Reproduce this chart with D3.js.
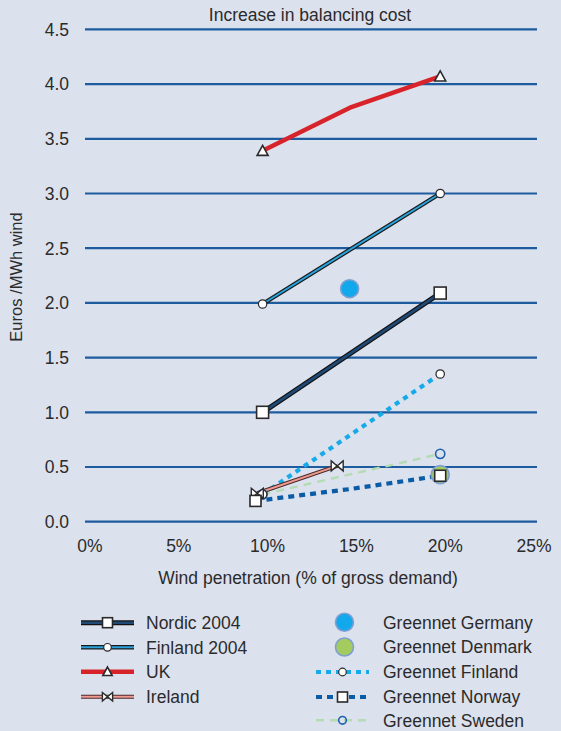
<!DOCTYPE html>
<html><head><meta charset="utf-8">
<script src="https://cdn.jsdelivr.net/npm/d3@7"></script>
<style>
html,body{margin:0;padding:0;background:#dce1ee;}
text{font-family:"Liberation Sans",Arial,sans-serif;fill:#2b2b2b;}
</style></head>
<body>
<svg id="chart" width="561" height="731"></svg>
<script>
// ---- data ----
const title = "Increase in balancing cost";
const yTitle = "Euros /MWh wind";
const xTitle = "Wind penetration (% of gross demand)";
const xTicks = [0, 5, 10, 15, 20, 25];
const yTicks = [0, 0.5, 1.0, 1.5, 2.0, 2.5, 3.0, 3.5, 4.0, 4.5];

const nordic2004 = [[10, 1.0], [20, 2.09]];
const finland2004 = [[10, 1.99], [20, 3.0]];
const uk = [[10, 3.39], [15, 3.79], [20, 4.07]];
const ireland = [[9.7, 0.26], [14.2, 0.51]];
const greennetGermany = [[14.9, 2.13]];
const greennetDenmark = [[20, 0.43]];
const greennetFinland = [[10, 0.25], [20, 1.35]];
const greennetNorway = [[9.6, 0.19], [15, 0.3], [20, 0.42]];
const greennetSweden = [[10, 0.25], [20, 0.62]];

const legendLeft = ["Nordic 2004", "Finland 2004", "UK", "Ireland"];
const legendRight = ["Greennet Germany", "Greennet Denmark", "Greennet Finland", "Greennet Norway", "Greennet Sweden"];

// ---- layout ----
const svg = d3.select("#chart");
const x = d3.scaleLinear().domain([0, 25]).range([85, 529]);
const y = d3.scaleLinear().domain([0, 4.5]).range([521.7, 29.4]);
const gridRight = 537;

svg.append("rect").attr("width", 561).attr("height", 731).attr("fill", "#dce1ee");

// gridlines
svg.append("g").selectAll("line").data(yTicks).join("line")
  .attr("x1", x(0)).attr("x2", gridRight)
  .attr("y1", d => y(d)).attr("y2", d => y(d))
  .attr("stroke", "#1c5c9f").attr("stroke-width", 2.2);

// y tick labels
svg.append("g").selectAll("text").data(yTicks).join("text")
  .attr("x", 69).attr("y", d => y(d)).attr("dy", "0.36em")
  .attr("text-anchor", "end").style("font-size", "17.5px")
  .text(d3.format(".1f"));

// x tick labels
svg.append("g").selectAll("text").data(xTicks).join("text")
  .attr("x", d => x(d) + 5).attr("y", 552)
  .attr("text-anchor", "middle").style("font-size", "17.5px")
  .text(d => d + "%");

svg.append("text").attr("x", 310).attr("y", 21).attr("text-anchor", "middle")
  .style("font-size", "17.5px").text(title);
svg.append("text").attr("x", 308).attr("y", 584).attr("text-anchor", "middle")
  .style("font-size", "17.5px").text(xTitle);
svg.append("text").attr("transform", "translate(22,277) rotate(-90)")
  .attr("text-anchor", "middle").style("font-size", "16.5px").text(yTitle);

const line = d3.line().x(d => x(d[0])).y(d => y(d[1]));

// markers
function marker(g, type, cx, cy, opt = {}) {
  if (type === "square") {
    const s = opt.size || 11;
    g.append("rect").attr("x", cx - s / 2).attr("y", cy - s / 2).attr("width", s).attr("height", s)
      .attr("fill", "#fff").attr("stroke", "#2a2a2a").attr("stroke-width", 1.6);
  } else if (type === "circle") {
    g.append("circle").attr("cx", cx).attr("cy", cy).attr("r", opt.r || 4.2)
      .attr("fill", opt.fill || "#fff").attr("stroke", opt.stroke || "#2a2a2a").attr("stroke-width", opt.sw || 1.2);
  } else if (type === "triangle") {
    const k = opt.k || 1;
    g.append("path").attr("d", `M${cx},${cy - 5.5 * k}L${cx + 5.5 * k},${cy + 4.5 * k}L${cx - 5.5 * k},${cy + 4.5 * k}Z`)
      .attr("fill", "#fff").attr("stroke", "#2a2a2a").attr("stroke-width", 1.6);
  } else if (type === "bowtie") {
    const k = opt.k || 1;
    g.append("path").attr("d", `M${cx - 6 * k},${cy - 5 * k}L${cx},${cy}L${cx - 6 * k},${cy + 5 * k}ZM${cx + 6 * k},${cy - 5 * k}L${cx},${cy}L${cx + 6 * k},${cy + 5 * k}Z`)
      .attr("fill", "#fff").attr("stroke", "#2a2a2a").attr("stroke-width", 1.4);
  } else if (type === "bubble") {
    g.append("circle").attr("cx", cx).attr("cy", cy).attr("r", 9)
      .attr("fill", opt.fill).attr("stroke", "#7f9fd3").attr("stroke-width", 1.6);
  }
}

const series = [
  { name: "Greennet Sweden", data: greennetSweden, strokes: [{ c: "#b5dbb2", w: 2.4, dash: "8,6" }], mk: "circle", mopt: { r: 4.6, fill: "none", stroke: "#1f62ab", sw: 1.6 }, lopt: { r: 3.8, fill: "none", stroke: "#1f62ab", sw: 1.6 } },
  { name: "Greennet Norway", data: greennetNorway, strokes: [{ c: "#0b5ca6", w: 4.2, dash: "6,5" }], mk: "square", mopt: { size: 11 }, lopt: { size: 10 } },
  { name: "Greennet Finland", data: greennetFinland, strokes: [{ c: "#17aae8", w: 4.2, dash: "5,5" }], mk: "circle", mopt: {}, lopt: { r: 3.8 } },
  { name: "Ireland", data: ireland, strokes: [{ c: "#4a2a2a", w: 4 }, { c: "#ee9a90", w: 2 }], mk: "bowtie", mopt: {}, lopt: { k: 0.85 } },
  { name: "Nordic 2004", data: nordic2004, strokes: [{ c: "#111", w: 5 }, { c: "#1f4a78", w: 2.6 }], mk: "square", mopt: { size: 12 }, lopt: { size: 10 } },
  { name: "Finland 2004", data: finland2004, strokes: [{ c: "#1a1a1a", w: 4.4 }, { c: "#2aa3dc", w: 2 }], mk: "circle", mopt: {}, lopt: { r: 3.8 } },
  { name: "UK", data: uk, strokes: [{ c: "#d8232a", w: 4.4 }], mk: "triangle", mopt: {}, lopt: { k: 0.85 }, mkIdx: [0, 2] },
];

const plot = svg.append("g");
series.forEach(s => {
  s.strokes.forEach(st => {
    plot.append("path").datum(s.data).attr("d", line).attr("fill", "none")
      .attr("stroke", st.c).attr("stroke-width", st.w)
      .attr("stroke-dasharray", st.dash || null).attr("stroke-linejoin", "round");
  });
});
// markers on top, in order
const markerOrder = ["Greennet Sweden", "Greennet Finland", "Nordic 2004", "Finland 2004", "UK", "Ireland", "Greennet Norway"];
markerOrder.forEach(n => {
  const s = series.find(t => t.name === n);
  s.data.forEach((d, i) => {
    if (n === "Greennet Norway" && i > 0) return;
    if (s.mkIdx && !s.mkIdx.includes(i)) return;
    marker(plot, s.mk, x(d[0]), y(d[1]), s.mopt);
  });
});
greennetGermany.forEach(d => marker(plot, "bubble", x(d[0]), y(d[1]), { fill: "#12a8ec" }));
greennetDenmark.forEach(d => marker(plot, "bubble", x(d[0]), y(d[1]), { fill: "#a4cb5e" }));
// Norway end marker drawn above Denmark bubble
{
  const d = greennetNorway[greennetNorway.length - 1];
  marker(plot, "square", x(d[0]), y(d[1]), { size: 11 });
}

// ---- legend ----
const lg = svg.append("g");
const leftRows = [622.7, 647.3, 671.7, 696.7];
const rightRows = [622.3, 647, 672, 697, 720.3];
legendLeft.forEach((n, i) => {
  const s = series.find(t => t.name === n);
  const yy = leftRows[i];
  s.strokes.forEach(st => {
    lg.append("line").attr("x1", 81).attr("x2", 134).attr("y1", yy).attr("y2", yy)
      .attr("stroke", st.c).attr("stroke-width", st.w);
  });
  marker(lg, s.mk, 107.5, yy, s.lopt);
  lg.append("text").attr("x", 146).attr("y", yy).attr("dy", "0.36em").style("font-size", "17.5px").text(n);
});
legendRight.forEach((n, i) => {
  const yy = rightRows[i];
  if (n === "Greennet Germany") marker(lg, "bubble", 344.5, yy, { fill: "#12a8ec" });
  else if (n === "Greennet Denmark") marker(lg, "bubble", 344.5, yy, { fill: "#a4cb5e" });
  else {
    const s = series.find(t => t.name === n);
    s.strokes.forEach(st => {
      lg.append("line").attr("x1", 316).attr("x2", 369).attr("y1", yy).attr("y2", yy)
        .attr("stroke", st.c).attr("stroke-width", st.w).attr("stroke-dasharray", st.dash || null);
    });
    marker(lg, s.mk, 342.5, yy, s.lopt);
  }
  lg.append("text").attr("x", 383).attr("y", yy).attr("dy", "0.36em").style("font-size", "17.5px").text(n);
});
</script>
</body></html>
